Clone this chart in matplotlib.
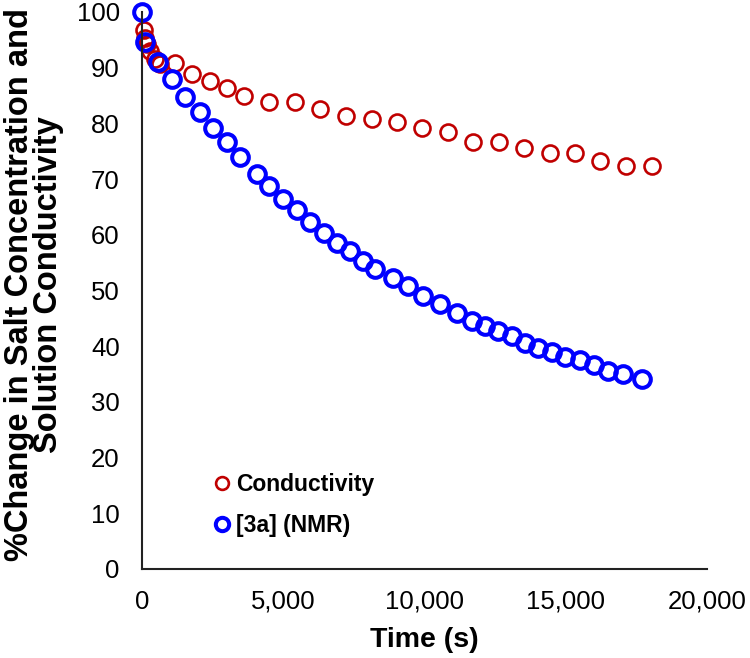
import matplotlib.pyplot as plt
from matplotlib.ticker import FuncFormatter

plt.rcParams['font.family'] = ['Liberation Sans', 'DejaVu Sans']

# conductivity (% of initial) vs time (s)
cond_time = [80, 100, 170, 280, 460, 640, 1170, 1760, 2400, 3000, 3620, 4500,
             5400, 6300, 7220, 8130, 9030, 9930, 10830, 11730, 12640, 13520,
             14440, 15330, 16230, 17130, 18040]
cond_pct = [96.8, 95.4, 94.2, 93.0, 91.5, 90.6, 90.8, 88.8, 87.6, 86.3, 84.9, 83.9,
            83.9, 82.5, 81.4, 80.8, 80.2, 79.2, 78.4, 76.6, 76.6, 75.5,
            74.6, 74.6, 73.3, 72.3, 72.3]

# [3a] by NMR (% of initial) vs time (s)
nmr_time = [0, 100, 580, 1050, 1520, 2050, 2520, 3000, 3470, 4060, 4510, 5000,
            5480, 5950, 6440, 6890, 7360, 7810, 8250, 8900, 9430, 9960, 10550,
            11140, 11670, 12140, 12610, 13090, 13560, 14030, 14500, 14970,
            15500, 16010, 16510, 17040, 17690]
nmr_pct = [100.0, 94.6, 91.1, 88.0, 84.7, 82.0, 79.1, 76.6, 74.0, 71.0, 68.7, 66.4,
           64.4, 62.3, 60.4, 58.6, 57.1, 55.3, 53.9, 52.3, 50.8, 49.0, 47.5,
           46.0, 44.6, 43.6, 42.7, 41.8, 40.6, 39.7, 38.9, 38.1,
           37.5, 36.7, 35.6, 35.0, 34.1]

x_ticks = [0, 5000, 10000, 15000, 20000]
y_ticks = list(range(0, 101, 10))

fig = plt.figure(figsize=(7.5, 6.58), dpi=100)
ax = fig.add_axes([0.1893, 0.1353, 0.7533, 0.8465])

ax.plot(cond_time, cond_pct, 'o', linestyle='none', markersize=11.5,
        markerfacecolor='none', markeredgecolor='#C00000', markeredgewidth=1.9,
        label='Conductivity', clip_on=False)
ax.plot(nmr_time, nmr_pct, 'o', linestyle='none', markersize=12,
        markerfacecolor='none', markeredgecolor='#0000FF', markeredgewidth=2.9,
        label='[3a] (NMR)', clip_on=False)

ax.set_xlim(0, 20000)
ax.set_ylim(0, 100)
ax.set_xticks(x_ticks)
ax.set_yticks(y_ticks)
ax.xaxis.set_major_formatter(FuncFormatter(lambda v, p: f'{int(v):,}'))
ax.tick_params(length=0, labelsize=18.5)
ax.tick_params(axis='x', pad=15)
ax.tick_params(axis='y', pad=16)

for side in ['top', 'right']:
    ax.spines[side].set_visible(False)
for side in ['left', 'bottom']:
    ax.spines[side].set_linewidth(1.5)
    ax.spines[side].set_color('#222222')

ax.set_xlabel('Time (s)', fontsize=20.5, fontweight='bold')
ax.set_ylabel('%Change in Salt Concentration and\nSolution Conductivity',
              fontsize=23.5, fontweight='bold', linespacing=0.9)
ax.xaxis.set_label_coords(0.5, -0.105)
ax.yaxis.set_label_coords(-0.138, 0.51)

leg = ax.legend(loc='lower left', bbox_to_anchor=(0.093, 0.02), frameon=False,
                fontsize=16.5, markerscale=0.8, handlelength=0.6,
                handletextpad=0.3, labelspacing=0.8)
for t in leg.get_texts():
    t.set_fontweight('bold')

fig.savefig('out.png', dpi=100)
